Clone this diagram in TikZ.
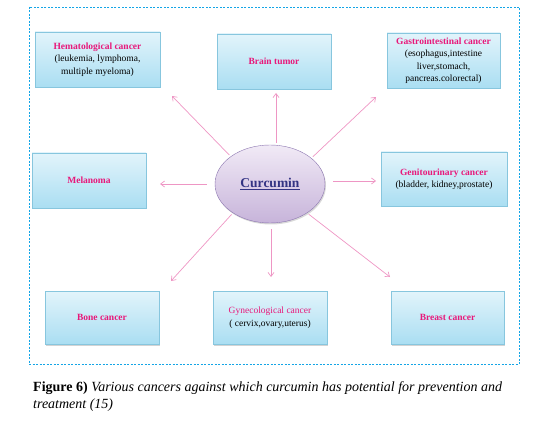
\documentclass[tikz,border=0pt]{standalone}
\usepackage{fontspec}
\setmainfont{Liberation Serif}
\usetikzlibrary{positioning,shadows,arrows.meta,shapes.geometric}
\definecolor{boxtop}{RGB}{226,244,251}
\definecolor{boxbot}{RGB}{170,222,242}
\definecolor{boxline}{RGB}{135,198,222}
\definecolor{titlepink}{RGB}{232,24,122}
\definecolor{elltop}{RGB}{241,234,246}
\definecolor{ellbot}{RGB}{199,180,218}
\definecolor{ellline}{RGB}{140,118,176}
\definecolor{curtext}{RGB}{52,52,132}
\definecolor{arrpink}{RGB}{238,150,196}
\definecolor{framecol}{RGB}{20,165,230}

\begin{document}
\begin{tikzpicture}[x=1pt,y=-1pt,
    cancer/.style={draw=boxline,top color=boxtop,bottom color=boxbot,align=center,
        font=\fontsize{9.5}{12.5}\selectfont,
        drop shadow={opacity=0.35,shadow xshift=1pt,shadow yshift=-1.5pt}},
    arr/.style={draw=arrpink,line width=0.7pt,-{Straight Barb[length=4pt,width=6pt]}}]
    \useasboundingbox (0,0) rectangle (542,436);
    % dashed frame
    \draw[framecol,line width=0.8pt,dash pattern=on 2pt off 1.5pt] (29,7) rectangle (519,364);

    % centre
    \node[ellipse,draw=ellline,top color=elltop,bottom color=ellbot,minimum width=110pt,minimum height=78pt,
        drop shadow={opacity=0.3,shadow xshift=1pt,shadow yshift=-1.5pt}] (cur) at (270,184)
        {\fontsize{13.5}{15}\selectfont\bfseries\color{curtext}\underline{Curcumin}};

    % cancer boxes
    \node[cancer,minimum width=125pt,minimum height=55pt] (hem) at (97.5,59.5)
        {{\bfseries\color{titlepink}Hematological cancer}\\(leukemia, lymphoma,\\multiple myeloma)};
    \node[cancer,minimum width=114pt,minimum height=55pt] (brain) at (274,61.5)
        {{\bfseries\color{titlepink}Brain tumor}};
    \node[cancer,minimum width=113pt,minimum height=55pt] (gastro) at (443.5,60.5)
        {{\bfseries\color{titlepink}Gastrointestinal cancer}\\(esophagus,intestine\\liver,stomach,\\pancreas.colorectal)};
    \node[cancer,minimum width=114pt,minimum height=55pt] (mel) at (89,180.5)
        {{\bfseries\color{titlepink}Melanoma}};
    \node[cancer,minimum width=126pt,minimum height=54pt] (genito) at (444,179)
        {{\bfseries\color{titlepink}Genitourinary cancer}\\(bladder, kidney,prostate)};
    \node[cancer,minimum width=114pt,minimum height=53pt] (bone) at (102,317.5)
        {{\bfseries\color{titlepink}Bone cancer}};
    \node[cancer,minimum width=114pt,minimum height=53pt] (gyn) at (270,317.5)
        {{\color{titlepink}Gynecological cancer}\\( cervix,ovary,uterus)};
    \node[cancer,minimum width=113pt,minimum height=53pt] (breast) at (447.5,317.5)
        {{\bfseries\color{titlepink}Breast cancer}};

    % arrow tips
    \coordinate (tHem) at (172,96);
    \coordinate (tBrain) at (276,93);
    \coordinate (tGastro) at (376,97);
    \coordinate (tMel) at (160,184);
    \coordinate (tGenito) at (376,181);
    \coordinate (tBone) at (171,281);
    \coordinate (tGyn) at (271,277);
    \coordinate (tBreast) at (390,277);

    \draw[arr,shorten <=2pt] (cur.145) -- (tHem);
    \draw[arr,shorten <=2pt] (cur.north -| tBrain) -- (tBrain);
    \draw[arr,shorten <=2pt] (cur.32) -- (tGastro);
    \draw[arr,shorten <=8pt] (cur.west |- tMel) -- (tMel);
    \draw[arr,shorten <=8pt] (cur.east |- tGenito) -- (tGenito);
    \draw[arr,shorten <=2pt] (cur.218) -- (tBone);
    \draw[arr,shorten <=6pt] (cur.south -| tGyn) -- (tGyn);
    \draw[arr,shorten <=2pt] (cur.322) -- (tBreast);

    % caption
    \node[anchor=north west,align=left,inner sep=0pt,font=\fontsize{14}{17}\selectfont] (cap) at (33,381)
        {\textbf{Figure 6)} \textit{Various cancers against which curcumin has potential for prevention and}\\
         \textit{treatment (15)}};
\end{tikzpicture}
\end{document}
